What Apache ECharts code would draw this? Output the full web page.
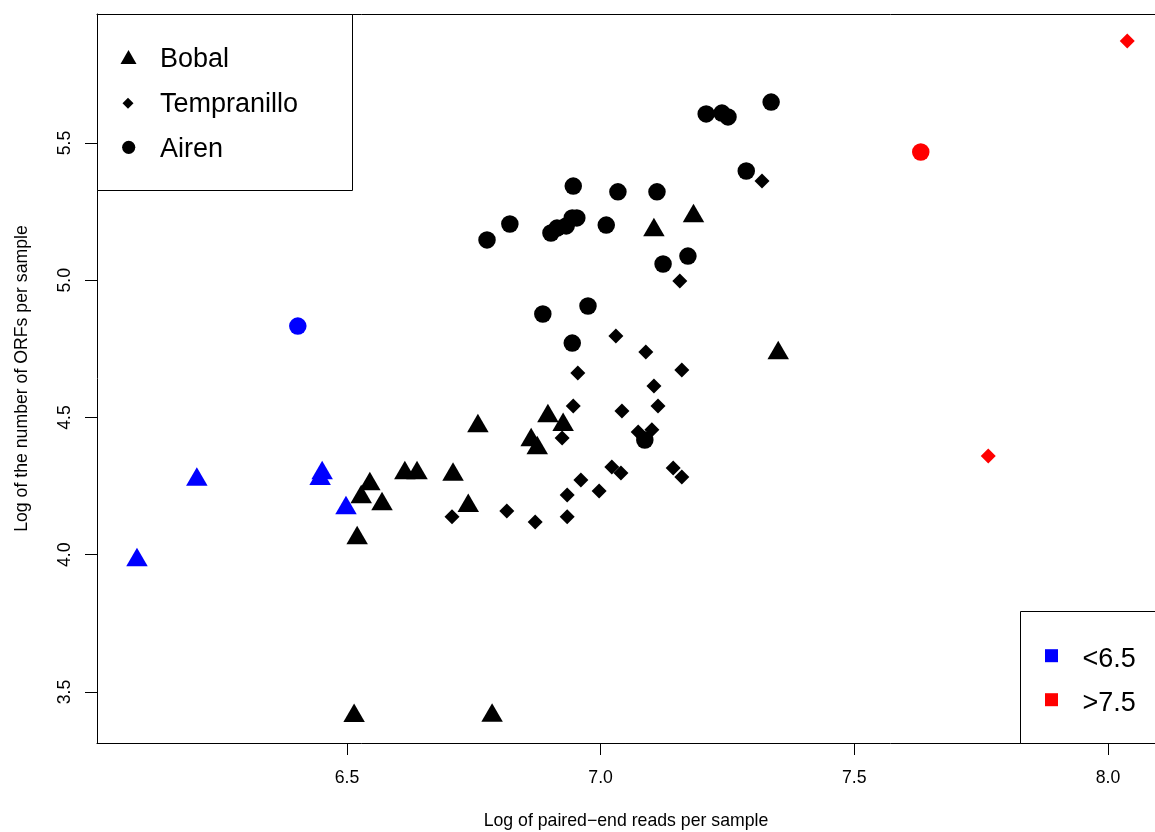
<!DOCTYPE html>
<html>
<head>
<meta charset="utf-8">
<script src="https://cdn.jsdelivr.net/npm/echarts@6/dist/echarts.min.js"></script>
<style>
  html, body { margin: 0; padding: 0; background: #ffffff; }
  #chart { width: 1155px; height: 832px; }
</style>
</head>
<body>
<div id="chart"></div>
<script>
// log10 paired-end reads (x) vs log10 ORF count (y), one point per sample
const bobal = [
  [6.086, 3.992], [6.204, 4.285], [6.451, 4.309], [6.447, 4.288], [6.498, 4.181],
  [6.514, 3.424], [6.786, 3.425], [6.520, 4.072], [6.528, 4.221], [6.545, 4.269],
  [6.569, 4.196], [6.614, 4.309], [6.638, 4.309], [6.709, 4.303], [6.739, 4.189],
  [6.758, 4.480], [6.863, 4.429], [6.875, 4.400], [6.896, 4.516], [6.926, 4.484],
  [7.105, 5.194], [7.183, 5.245], [7.350, 4.746]
];
const tempranillo = [
  [7.318, 5.362], [7.156, 4.997], [7.030, 4.797], [7.089, 4.739], [7.160, 4.673],
  [6.955, 4.662], [7.105, 4.615], [7.113, 4.542], [6.946, 4.542], [7.042, 4.524],
  [7.074, 4.447], [7.101, 4.455], [6.924, 4.425], [7.022, 4.320], [7.040, 4.298],
  [7.143, 4.316], [7.160, 4.283], [6.961, 4.272], [6.997, 4.232], [6.934, 4.218],
  [6.815, 4.159], [6.871, 4.119], [6.934, 4.138], [6.707, 4.138], [7.764, 4.360],
  [8.038, 5.872]
];
const airen = [
  [6.946, 5.343], [7.034, 5.322], [7.111, 5.322], [6.821, 5.205], [6.776, 5.147],
  [6.902, 5.172], [6.914, 5.190], [6.932, 5.198], [6.944, 5.227], [6.953, 5.227],
  [7.011, 5.201], [7.123, 5.059], [7.172, 5.088], [6.886, 4.877], [6.975, 4.906],
  [6.944, 4.771], [7.336, 5.649], [7.208, 5.606], [7.239, 5.609], [7.251, 5.595],
  [7.287, 5.398], [7.087, 4.418], [6.403, 4.833], [7.631, 5.467]
];
const xTicks = [6.5, 7.0, 7.5, 8.0];
const yTicks = [3.5, 4.0, 4.5, 5.0, 5.5];
const lowCut = 6.5;
const highCut = 7.5;
const varieties = ['Bobal', 'Tempranillo', 'Airen'];
const depthLabels = ['<6.5', '>7.5'];

const FONT = '"Liberation Sans", Arial, Helvetica, sans-serif';
const AXIS_FS = 17.7;
const BLUE = '#0000ff', RED = '#ff0000', BLACK = '#000000';

// colour each sample by its sequencing depth
function depthColor(p) {
  const x = p.value[0];
  if (x < lowCut) return BLUE;
  if (x > highCut) return RED;
  return BLACK;
}

function scatter(name, data, symbol, size) {
  return {
    name: name,
    type: 'scatter',
    data: data,
    symbol: symbol,
    symbolSize: size,
    itemStyle: { color: depthColor, opacity: 1 },
    emphasis: { disabled: true },
    animation: false
  };
}

// legend box for the three varieties (top left)
const legendSymbols = [
  { type: 'polygon', shape: { points: [[120.5, 64], [128.5, 50], [136.5, 64]] }, style: { fill: BLACK } },
  { type: 'polygon', shape: { points: [[128, 97.8], [133.5, 103.3], [128, 108.8], [122.5, 103.3]] }, style: { fill: BLACK } },
  { type: 'circle', shape: { cx: 128.7, cy: 147.3, r: 6.6 }, style: { fill: BLACK } }
];
const legendRowsY = [60, 105, 150];
const graphics = [
  { type: 'rect', shape: { x: 97.5, y: 14.5, width: 255, height: 176 }, style: { fill: '#fff', stroke: BLACK, lineWidth: 1 }, z: 10 }
];
legendSymbols.forEach(s => { s.z = 11; graphics.push(s); });
varieties.forEach((v, i) => {
  graphics.push({
    type: 'text', z: 11,
    style: { text: v, x: 160, y: legendRowsY[i], font: '27px ' + FONT, fill: BLACK, align: 'left', verticalAlign: 'middle' }
  });
});

// legend box for the depth colours (bottom right)
graphics.push({ type: 'rect', shape: { x: 1020.5, y: 611.5, width: 200, height: 132 }, style: { fill: '#fff', stroke: BLACK, lineWidth: 1 }, z: 10 });
[BLUE, RED].forEach((c, i) => {
  const cy = [655.7, 699.7][i];
  graphics.push({ type: 'rect', z: 11, shape: { x: 1045, y: cy - 6.5, width: 13, height: 13 }, style: { fill: c } });
  graphics.push({
    type: 'text', z: 11,
    style: { text: depthLabels[i], x: 1082.5, y: cy + 3.5, font: '27px ' + FONT, fill: BLACK, align: 'left', verticalAlign: 'middle' }
  });
});

const axisLineStyle = { show: true, onZero: false, lineStyle: { color: BLACK, width: 1 } };

const chart = echarts.init(document.getElementById('chart'), null, { renderer: 'canvas' });
chart.setOption({
  backgroundColor: '#ffffff',
  animation: false,
  grid: {
    left: 97, top: 14, right: 0, bottom: 89, show: false,
    containLabel: false, outerBoundsMode: 'none'
  },
  xAxis: [
    {
      type: 'value',
      min: 6.0072, max: 8.0927,
      axisLine: axisLineStyle,
      axisTick: { show: true, length: 12, customValues: xTicks, lineStyle: { color: BLACK, width: 1 } },
      axisLabel: {
        customValues: xTicks, formatter: v => v.toFixed(1),
        color: BLACK, fontSize: AXIS_FS, fontFamily: FONT, margin: 26
      },
      splitLine: { show: false },
      name: 'Log of paired\u2212end reads per sample',
      nameLocation: 'middle', nameGap: 69,
      nameTextStyle: { color: BLACK, fontSize: AXIS_FS, fontFamily: FONT }
    },
    {
      // top frame line of the plotting region
      type: 'value', position: 'top',
      min: 6.0072, max: 8.0927,
      axisLine: axisLineStyle,
      axisTick: { show: false }, axisLabel: { show: false }, splitLine: { show: false }
    }
  ],
  yAxis: {
    type: 'value',
    min: 3.314, max: 5.970,
    axisLine: axisLineStyle,
    axisTick: { show: true, length: 12, customValues: yTicks, lineStyle: { color: BLACK, width: 1 } },
    axisLabel: {
      customValues: yTicks, formatter: v => v.toFixed(1), rotate: 90,
      color: BLACK, fontSize: AXIS_FS, fontFamily: FONT, margin: 23
    },
    splitLine: { show: false },
    name: 'Log of the number of ORFs per sample',
    nameLocation: 'middle', nameGap: 66, nameRotate: 90,
    nameTextStyle: { color: BLACK, fontSize: AXIS_FS, fontFamily: FONT }
  },
  series: [
    scatter(varieties[0], bobal, 'triangle', [21.5, 18.5]),
    scatter(varieties[1], tempranillo, 'diamond', 15),
    scatter(varieties[2], airen, 'circle', 17.5)
  ],
  graphic: graphics
});
</script>
</body>
</html>
